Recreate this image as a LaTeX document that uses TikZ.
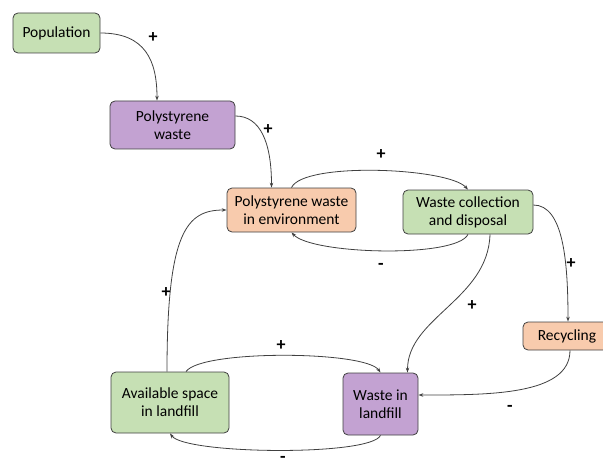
\documentclass[tikz,border=0pt]{standalone}
\usepackage{fontspec}
\setmainfont{Carlito}
\usetikzlibrary{arrows.meta}
\definecolor{gfill}{HTML}{C6E0B4}
\definecolor{pfill}{HTML}{C3A2D2}
\definecolor{ofill}{HTML}{F8CBAD}
\definecolor{edge}{HTML}{404040}
\tikzset{
  x=1pt,y=1pt,
  box/.style={draw=edge, line width=0.8pt, rounded corners=5pt, align=center, font=\fontsize{15.5}{18}\selectfont, inner sep=2pt},
  gbox/.style={box, fill=gfill},
  pbox/.style={box, fill=pfill},
  obox/.style={box, fill=ofill},
  link/.style={draw=edge, line width=0.8pt, -{Stealth[length=5pt,width=3.5pt]}},
  sign/.style={font=\bfseries\fontsize{18}{18}\selectfont, inner sep=0pt}
}
\begin{document}
\begin{tikzpicture}
\useasboundingbox (0,0) rectangle (603,467);
\node[gbox, minimum width=87pt, minimum height=40pt] (pop) at (56.5,434) {Population};
\node[pbox, minimum width=125pt, minimum height=48pt] (psw) at (172.5,342) {Polystyrene\\waste};
\node[obox, minimum width=129pt, minimum height=44pt] (pwe) at (291.5,257) {Polystyrene waste\\in environment};
\node[gbox, minimum width=130pt, minimum height=44pt] (wcd) at (468,255) {Waste collection\\and disposal};
\node[obox, minimum width=88pt, minimum height=28pt] (rec) at (567,131) {Recycling};
\node[gbox, minimum width=118pt, minimum height=61pt] (asl) at (170,64.5) {Available space\\in landfill};
\node[pbox, minimum width=75pt, minimum height=62pt] (wil) at (380.5,63) {Waste in\\landfill};

\coordinate (p1) at ([xshift=-15.5pt]psw.north);
\draw[link] (pop.east) .. controls +(45,0) and +(0,40) .. (p1);
\coordinate (p2s) at ([yshift=9pt]psw.east);
\coordinate (p2) at ([xshift=-20pt]pwe.north);
\draw[link] (p2s) .. controls +(25,0) and +(0,45) .. (p2);
\draw[link] (pwe.north) .. controls +(12,26) and +(-20,22) .. (wcd.north);
\draw[link] (wcd.south) .. controls +(-12,-24) and +(20,-22) .. (pwe.south);
\coordinate (w1) at ([yshift=7pt]wcd.east);
\draw[link] (w1) .. controls +(30,0) and +(0,60) .. ([xshift=1pt]rec.north);
\coordinate (w2) at ([xshift=22pt]wcd.south);
\coordinate (w3) at ([xshift=27pt]wil.north);
\draw[link] (w2) .. controls +(-2,-65) and +(0,55) .. (w3);
\coordinate (r1) at ([xshift=3pt]rec.south);
\coordinate (r2) at ([yshift=9pt]wil.east);
\draw[link] (r1) .. controls +(0,-45) and +(70,0) .. (r2);
\coordinate (a1) at ([xshift=-3pt]asl.north);
\draw[link] (a1) .. controls +(0,140) and +(-40,0) .. (pwe.west);
\coordinate (a2) at ([xshift=16pt]asl.north);
\draw[link] (a2) .. controls +(15,22) and +(-15,22) .. (wil.north);
\draw[link] (wil.south) .. controls +(-10,-21) and +(15,-21) .. (asl.south);

\node[sign] (s1) at (153,429) {+};
\node[sign] (s2) at (268,337) {+};
\node[sign] (s3) at (381,312) {+};
\node[sign] (s4) at (381,201) {-};
\node[sign] (s5) at (571,203) {+};
\node[sign] (s6) at (472,161) {+};
\node[sign] (s7) at (510,59) {-};
\node[sign] (s8) at (166,174) {+};
\node[sign] (s9) at (281,121) {+};
\node[sign] (s10) at (283,8) {-};
\end{tikzpicture}
\end{document}
